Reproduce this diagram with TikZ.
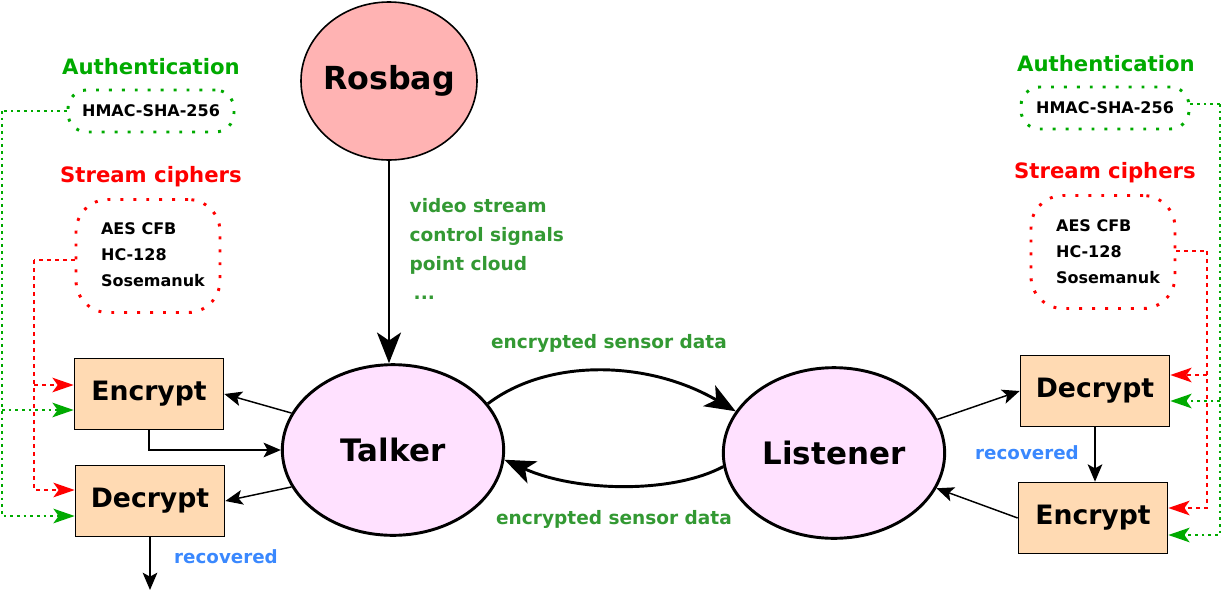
\documentclass[tikz,border=0pt]{standalone}
\usepackage{fontspec}
\setmainfont{DejaVu Sans}
\usetikzlibrary{arrows.meta,shapes.geometric,calc}
\definecolor{rosfill}{HTML}{FFB3B3}
\definecolor{nodefill}{HTML}{FFE1FF}
\definecolor{boxfill}{HTML}{FFDAB3}
\definecolor{authgreen}{HTML}{00AA00}
\definecolor{labgreen}{HTML}{339933}
\definecolor{recblue}{HTML}{3A88FE}
\definecolor{ciphred}{HTML}{FF0000}
\begin{document}
\begin{tikzpicture}[x=0.75pt,y=-0.75pt,font=\bfseries,
  ell/.style={ellipse,draw,line width=2.2pt,fill=nodefill,inner sep=0pt,
    minimum width=166pt,minimum height=128pt,font=\fontsize{23.2}{28}\selectfont\bfseries},
  opbox/.style={rectangle,draw,line width=1pt,fill=boxfill,inner sep=0pt,
    minimum width=112pt,minimum height=53.5pt,font=\fontsize{20}{24}\selectfont\bfseries},
  dotbox/.style={rectangle,line width=2.2pt,dash pattern=on 2.2pt off 7.5pt,inner sep=0pt},
  title/.style={font=\fontsize{15.9}{19}\selectfont\bfseries},
  small/.style={font=\fontsize{12}{19.5}\selectfont\bfseries},
  glab/.style={text=labgreen,font=\fontsize{13.9}{21.75}\selectfont\bfseries},
  rlab/.style={text=recblue,font=\fontsize{13.7}{16}\selectfont\bfseries},
  arr/.style={line width=1.1pt,-{Stealth[length=13pt,width=11pt,inset=3pt]}},
  bigarr/.style={line width=1.9pt,-{Stealth[length=23pt,width=18pt,inset=6pt]}},
  gline/.style={authgreen,line width=1.1pt,dash pattern=on 2pt off 3pt},
  rline/.style={ciphred,line width=1.1pt,dash pattern=on 3pt off 3pt},
  garr/.style={gline,-{Stealth[length=16pt,width=11pt,inset=4pt]}},
  rarr/.style={rline,-{Stealth[length=16pt,width=11pt,inset=4pt]}}]
\useasboundingbox (0,0) rectangle (1222,590);

% main nodes
\node[ellipse,draw,line width=1.2pt,fill=rosfill,inner sep=0pt,minimum width=132pt,minimum height=118.5pt,
  font=\fontsize{23.8}{28}\selectfont\bfseries] (rosbag) at (389,81) {\makebox[0pt]{Rosbag}};
\node[ell] (talker) at (393,450) {Talker};
\node[ell] (listener) at (834,453) {Listener};

\node[opbox] (encL) at (149,394) {Encrypt};
\node[opbox] (decL) at (150,501) {Decrypt};
\node[opbox] (decR) at (1095,391) {Decrypt};
\node[opbox] (encR) at (1093,518) {Encrypt};

% crypto boxes
\node[title,text=authgreen] (authL) at (151,67) {Authentication};
\node[dotbox,draw=authgreen,rounded corners=14pt,minimum width=124.5pt,minimum height=31.5pt,small] (hmacL) at (151,111) {HMAC-SHA-256};
\node[title,text=ciphred] (scTL) at (151,177) {Stream ciphers};
\node[dotbox,draw=ciphred,rounded corners=24pt,minimum width=108pt,minimum height=84.75pt] (scL) at (148,256) {};
\node[small,align=left] (scTxtL) at (153,255) {AES CFB\\HC-128\\Sosemanuk};

\node[title,text=authgreen] (authR) at (1106,64) {Authentication};
\node[dotbox,draw=authgreen,rounded corners=14pt,minimum width=126pt,minimum height=31.5pt,small] (hmacR) at (1105,108) {HMAC-SHA-256};
\node[title,text=ciphred] (scTR) at (1105,173) {Stream ciphers};
\node[dotbox,draw=ciphred,rounded corners=24pt,minimum width=108pt,minimum height=84.75pt] (scR) at (1103,252) {};
\node[small,align=left] (scTxtR) at (1108,252) {AES CFB\\HC-128\\Sosemanuk};

% labels
\node[glab,align=left,anchor=west] (streams) at (405,249) {video stream\\control signals\\point cloud\\\hspace{3pt}...};
\node[glab] (esd1) at (609,343) {encrypted sensor data};
\node[glab] (esd2) at (614,519) {encrypted sensor data};
\node[rlab] (recL) at (226,557) {recovered};
\node[rlab] (recR) at (1027,453) {recovered};

% main connectors
\draw[bigarr] (rosbag.south) -- (rosbag.south |- talker.north);
\draw[bigarr,line width=2.2pt] (talker.26.6) .. controls (548,358) and (648,360) .. (listener.157);
\draw[bigarr,line width=2.2pt] (listener.187) .. controls (672,494) and (576,492) .. (talker.355);

\draw[arr] (talker.160) -- (encL.east);
\draw[arr] (encL.south) |- (talker.west);
\draw[arr] (talker.200.7) -- (decL.east);
\coordinate (outL) at (149,590);
\draw[arr] (decL.south) -- (decL.south |- outL);

\draw[arr] (listener.18.6) -- (decR.west);
\draw[arr] (decR.south) -- (decR.south |- encR.north);
\draw[arr] (encR.west) -- (listener.341.4);

% left control lines
\coordinate (gL1) at (2,111);
\coordinate (gL2) at (2,410);
\draw[gline] (hmacL.west) -- (gL1);
\draw[garr] (gL1) |- ($(decL.west)+(0,15)$);
\draw[garr] (gL2) -- ($(encL.west)+(0,16)$);
\coordinate (rL1) at (34,260);
\coordinate (rL2) at (34,385);
\draw[rline] ($(scL.west)+(0,4)$) -- (rL1);
\draw[rarr] (rL1) |- ($(decL.west)+(0,-11)$);
\draw[rarr] (rL2) -- ($(encL.west)+(0,-9)$);

% right control lines
\coordinate (gR1) at (1220,104);
\coordinate (gR2) at (1220,401);
\draw[gline] ($(hmacR.east)+(0,-4)$) -- (gR1);
\draw[garr] (gR1) |- ($(encR.east)+(0,17)$);
\draw[garr] (gR2) -- ($(decR.east)+(0,10)$);
\coordinate (rR1) at (1207,251);
\coordinate (rR2) at (1207,375);
\draw[rline] ($(scR.east)+(0,-1)$) -- (rR1);
\draw[rarr] (rR1) |- ($(encR.east)+(0,-10)$);
\draw[rarr] (rR2) -- ($(decR.east)+(0,-16)$);
\end{tikzpicture}
\end{document}
